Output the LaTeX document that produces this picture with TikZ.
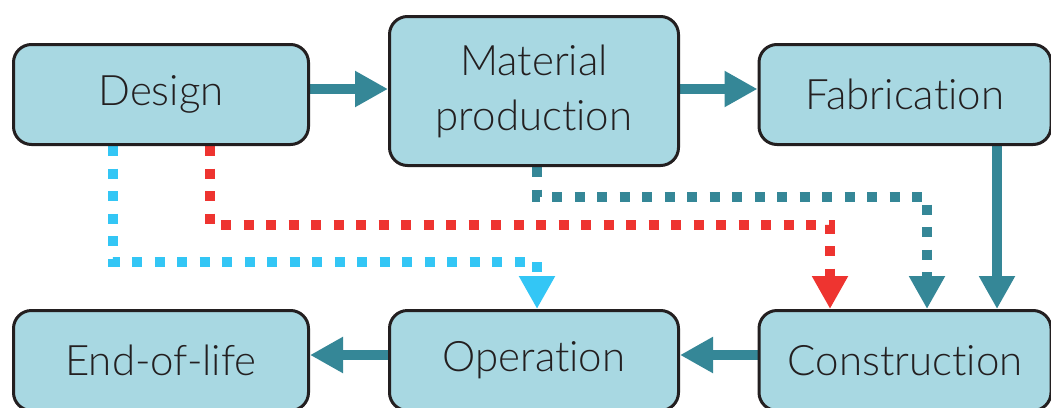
\documentclass[tikz,border=0pt]{standalone}
\usepackage{fontspec}
\setmainfont{Lato}[UprightFont={* Light}, Ligatures=NoCommon]
\usetikzlibrary{arrows.meta}
\definecolor{boxfill}{HTML}{A8D8E2}
\definecolor{boxline}{HTML}{231F20}
\definecolor{tealflow}{HTML}{358797}
\definecolor{bluedot}{HTML}{33C6F5}
\definecolor{reddot}{HTML}{EE3430}
\pgfdeclarelayer{nodelayer}
\pgfdeclarelayer{edgelayer}
\pgfsetlayers{edgelayer,nodelayer,main}
\tikzset{stage/.style={draw=boxline, line width=3pt, fill=boxfill, rounded corners=18pt,
inner sep=0pt, align=center, text=boxline, font=\fontsize{42}{55}\selectfont}}
\tikzset{flow/.style={draw=tealflow, line width=10pt, -{Triangle[length=33pt, width=34pt]}}}
\tikzset{dots/.style={draw=#1, line width=10pt, dash pattern=on 10pt off 12.5pt,
-{Triangle[length=33pt, width=34pt]}}}

\begin{document}
\begin{tikzpicture}[x=1pt, y=-1pt]
	\useasboundingbox (0,0) rectangle (1051,407);
	\begin{pgfonlayer}{nodelayer}
		\clip (0,0) rectangle (1051,407);
		\node [style=stage, minimum width=295pt, minimum height=100pt] (0) at (161, 94.5) {Design};
		\node [style=stage, minimum width=289pt, minimum height=149pt] (1) at (534, 91) {Material\\production};
		\node [style=stage, minimum width=292pt, minimum height=100pt] (2) at (905, 94.5) {Fabrication};
		\node [style=stage, minimum width=295pt, minimum height=100pt] (3) at (161, 360.5) {End-of-life};
		\node [style=stage, minimum width=289pt, minimum height=100pt] (4) at (534, 360.5) {Operation};
		\node [style=stage, minimum width=292pt, minimum height=100pt] (5) at (905, 360.5) {Construction};
	\end{pgfonlayer}
	\begin{pgfonlayer}{edgelayer}
		\clip (0,0) rectangle (1051,407);
		\coordinate (6) at (0, 89);
		\coordinate (7) at (0, 355);
		\coordinate (8) at (997, 0);
		\coordinate (9) at (113, 262);
		\coordinate (10) at (537, 0);
		\coordinate (11) at (210, 225);
		\coordinate (12) at (830, 0);
		\coordinate (13) at (537, 197);
		\coordinate (14) at (927, 0);
		\draw [style=flow] (0.east |- 6) to (1.west |- 6);
		\draw [style=flow] (1.east |- 6) to (2.west |- 6);
		\draw [style=flow] (2.south -| 8) to (5.north -| 8);
		\draw [style=flow] (5.west |- 7) to (4.east |- 7);
		\draw [style=flow] (4.west |- 7) to (3.east |- 7);
		\draw [dots=bluedot] (0.south -| 9) -- (9) -| (4.north -| 10);
		\draw [dots=reddot] (0.south -| 11) -- (11) -| (5.north -| 12);
		\draw [dots=tealflow] (1.south -| 13) -- (13) -| (5.north -| 14);
	\end{pgfonlayer}
\end{tikzpicture}
\end{document}
